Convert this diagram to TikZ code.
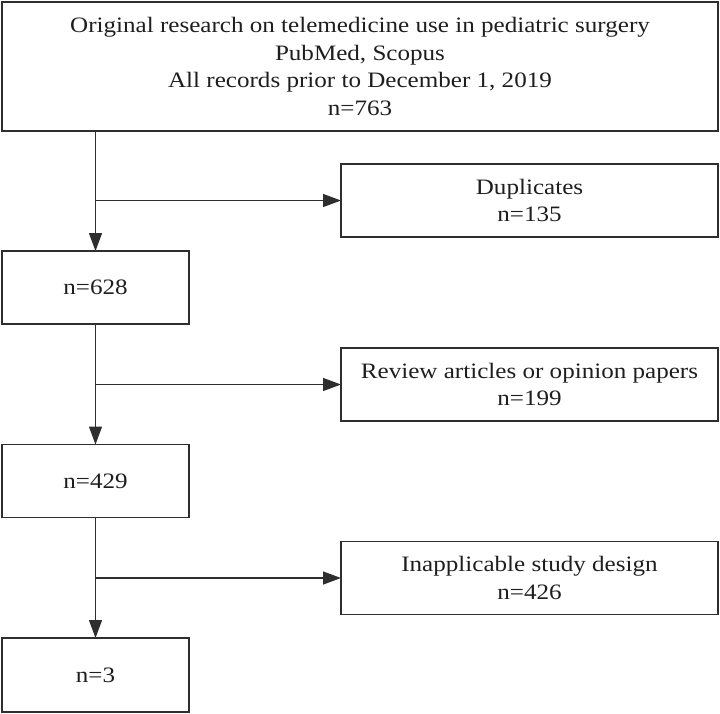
\documentclass[tikz,border=0pt]{standalone}
\usepackage{fontspec}
\setmainfont{Liberation Serif}[FakeStretch=1.14]
\usetikzlibrary{arrows.meta}
\definecolor{linec}{HTML}{2E2E2E}
\definecolor{textc}{HTML}{1E1E1E}
\tikzset{
  box/.style={draw=linec, line width=1.3pt, rectangle, inner sep=0pt, outer sep=0pt,
    align=center, text=textc, font=\fontsize{22}{27.5}\selectfont},
  flow/.style={draw=linec, line width=1.3pt, -{Triangle[length=18pt,width=13pt]}},
  plain/.style={draw=linec, line width=1.3pt}
}
\begin{document}
\begin{tikzpicture}[x=1pt,y=1pt]
\useasboundingbox (0,0) rectangle (720,-713);
\node[box, minimum width=716pt, minimum height=129pt] (top) at (360,-66.5)
  {Original research on telemedicine use in pediatric surgery\\PubMed, Scopus\\All records prior to December 1, 2019\\n=763};
\node[box, minimum width=377pt, minimum height=73pt] (dup) at (529.5,-200.5) {Duplicates\\n=135};
\node[box, minimum width=187pt, minimum height=73pt] (n628) at (95.5,-287.5) {n=628};
\node[box, minimum width=377pt, minimum height=73pt] (rev) at (529.5,-384.5) {Review articles or opinion papers\\n=199};
\node[box, minimum width=187pt, minimum height=73pt] (n429) at (95.5,-481) {n=429};
\node[box, minimum width=377pt, minimum height=73pt] (inap) at (529.5,-578) {Inapplicable study design\\n=426};
\node[box, minimum width=187pt, minimum height=74pt] (n3) at (95.5,-675) {n=3};
\coordinate (b1) at (n628.north |- dup.west);
\coordinate (b2) at (n429.north |- rev.west);
\coordinate (b3) at (n3.north |- inap.west);
\draw[flow] (top.south -| n628.north) -- (n628.north);
\draw[flow] (b1) -- (dup.west);
\draw[flow] (n628.south) -- (n429.north);
\draw[flow] (b2) -- (rev.west);
\draw[flow] (n429.south) -- (n3.north);
\draw[flow] (b3) -- (inap.west);
\end{tikzpicture}
\end{document}
